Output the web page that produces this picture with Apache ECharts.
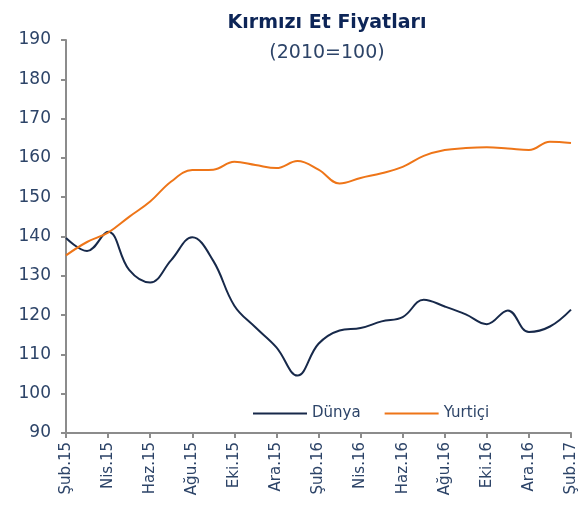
<!DOCTYPE html>
<html>
<head>
<meta charset="utf-8">
<script src="https://cdn.jsdelivr.net/npm/echarts@6/dist/echarts.min.js"></script>
<style>
  html, body { margin: 0; padding: 0; background: #fff; }
  #chart { width: 587px; height: 506px; }
</style>
</head>
<body>
<div id="chart"></div>
<script>
// aylar: Şub.15 - Şub.17
const months = [
  'Şub.15', 'Mar.15', 'Nis.15', 'May.15', 'Haz.15', 'Tem.15', 'Ağu.15', 'Eyl.15', 'Eki.15', 'Kas.15', 'Ara.15', 'Oca.16',
  'Şub.16', 'Mar.16', 'Nis.16', 'May.16', 'Haz.16', 'Tem.16', 'Ağu.16', 'Eyl.16', 'Eki.16', 'Kas.16', 'Ara.16', 'Oca.17',
  'Şub.17'
]
const dunya = [
  139.6, 136.3, 141.2, 131.5, 128.3, 134.0, 139.8, 133.8, 122.4, 116.9, 111.8, 104.6,
  112.7, 116.1, 116.7, 118.4, 119.5, 123.9, 122.2, 120.2, 117.7, 121.2, 115.7, 117.1,
  121.4
]
const yurtici = [
  135.2, 138.6, 141.0, 145.0, 148.9, 154.0, 156.9, 157.0, 159.0, 158.2, 157.4, 159.2,
  157.0, 153.5, 154.9, 156.1, 157.7, 160.5, 162.0, 162.5, 162.7, 162.4, 162.0, 164.1,
  163.8
]

const axisText = '#2d4468'
const font = 'DejaVu Sans'
const chart = echarts.init(document.getElementById('chart'))

chart.setOption({
  animation: false,
  textStyle: { fontFamily: font },
  title: {
    text: 'Kırmızı Et Fiyatları',
    subtext: '(2010=100)',
    left: 322,
    textAlign: 'center',
    top: 9,
    itemGap: 11,
    textStyle: { color: '#0d2557', fontSize: 19, fontWeight: 'bold', fontFamily: font },
    subtextStyle: { color: axisText, fontSize: 19, fontFamily: font }
  },
  legend: {
    left: 248,
    top: 401,
    itemWidth: 54,
    itemHeight: 2,
    itemGap: 24,
    icon: 'rect',
    textStyle: { color: axisText, fontSize: 15, padding: [0, 0, 0, 0] },
    data: ['Dünya', 'Yurtiçi']
  },
  grid: { left: 66, right: 16, top: 40, bottom: 73 },
  xAxis: {
    type: 'category',
    data: months,
    boundaryGap: false,
    axisLine: { lineStyle: { color: '#8c8c8c', width: 2 } },
    axisTick: { interval: 1, length: 5, lineStyle: { color: '#8c8c8c', width: 2 } },
    axisLabel: { interval: 1, rotate: 90, color: axisText, fontSize: 15, margin: 9 }
  },
  yAxis: {
    type: 'value',
    min: 90,
    max: 190,
    interval: 10,
    splitLine: { show: false },
    axisLine: { show: true, lineStyle: { color: '#8c8c8c', width: 2 } },
    axisTick: { show: true, length: 5, lineStyle: { color: '#8c8c8c', width: 2 } },
    axisLabel: { color: axisText, fontSize: 17, margin: 15 }
  },
  series: [
    {
      name: 'Dünya',
      type: 'line',
      smooth: 0.4,
      symbol: 'none',
      data: dunya,
      itemStyle: { color: '#17294a' },
      lineStyle: { color: '#17294a', width: 2 }
    },
    {
      name: 'Yurtiçi',
      type: 'line',
      smooth: 0.4,
      symbol: 'none',
      data: yurtici,
      itemStyle: { color: '#ee7518' },
      lineStyle: { color: '#ee7518', width: 2 }
    }
  ]
})
</script>
</body>
</html>
